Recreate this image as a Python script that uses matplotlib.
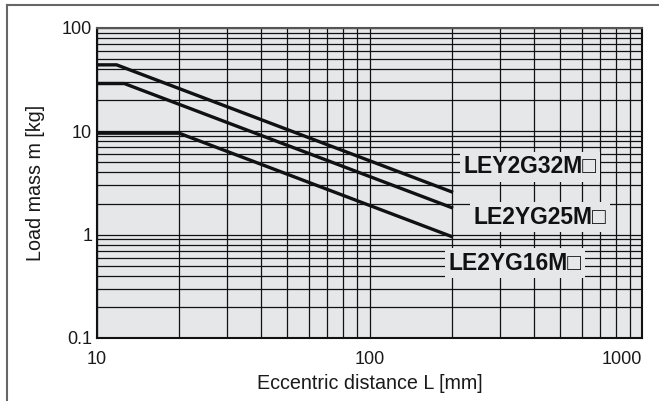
import matplotlib
matplotlib.use("Agg")
import matplotlib.pyplot as plt
from matplotlib.lines import Line2D
from matplotlib.ticker import LogLocator, NullFormatter, FixedLocator, FixedFormatter

plt.rcParams['font.family'] = ['Liberation Sans', 'DejaVu Sans']

# Allowable load mass vs. eccentric distance (log-log)
models = ["LEY2G32M□", "LE2YG25M□", "LE2YG16M□"]
dist_32 = [10, 11.8, 200]
mass_32 = [44, 44, 2.6]
dist_25 = [10, 12.6, 200]
mass_25 = [29, 29, 1.83]
dist_16 = [10, 20, 200]
mass_16 = [9.6, 9.6, 0.96]

x_ticks = [10, 100, 1000]
x_tick_labels = ["10", "100", "1000"]
y_ticks = [0.1, 1, 10, 100]
y_tick_labels = ["0.1", "1", "10", "100"]

fig = plt.figure(figsize=(6.59, 4.01), dpi=100)
ax = fig.add_axes([97 / 659, 1 - 338 / 401, (642 - 97) / 659, (338 - 28) / 401])
ax.set_facecolor("#e6e7e8")

ax.set_xscale("log")
ax.set_yscale("log")
ax.set_xlim(10, 1000)
ax.set_ylim(0.1, 100)

ax.xaxis.set_major_locator(FixedLocator(x_ticks))
ax.xaxis.set_major_formatter(FixedFormatter(x_tick_labels))
ax.yaxis.set_major_locator(FixedLocator(y_ticks))
ax.yaxis.set_major_formatter(FixedFormatter(y_tick_labels))
ax.xaxis.set_minor_locator(LogLocator(base=10, subs=range(2, 10)))
ax.yaxis.set_minor_locator(LogLocator(base=10, subs=range(2, 10)))
ax.xaxis.set_minor_formatter(NullFormatter())
ax.yaxis.set_minor_formatter(NullFormatter())
ax.tick_params(which="both", length=0, labelsize=13, colors="#1a1a1a")
ax.tick_params(axis="x", pad=9)
ax.tick_params(axis="y", pad=3.5)

# keep the last x label inside the plot's right edge
fig.canvas.draw()
ax.get_xticklabels()[-1].set_horizontalalignment("right")
ax.get_xticklabels()[-1].set_x(1000)

ax.grid(True, which="both", color="#111111", linewidth=0.9)
ax.set_axisbelow(True)
for s in ax.spines.values():
    s.set_linewidth(1.5)
    s.set_color("#111111")
ax.spines["top"].set_color("#555555")

for d, m in [(dist_32, mass_32), (dist_25, mass_25), (dist_16, mass_16)]:
    ax.plot(d, m, color="#111111", linewidth=2.4, solid_joinstyle="miter", zorder=3)

label_pos = [(388, 4.55), (423, 1.48), (342, 0.53)]
for name, (lx, ly) in zip(models, label_pos):
    ax.text(lx, ly, name, ha="center", va="center", fontsize=16.5, fontweight="bold",
            color="#111111", zorder=4,
            bbox=dict(facecolor="#e6e7e8", edgecolor="none", pad=2.5))

ax.set_xlabel("Eccentric distance L [mm]", fontsize=14.2, labelpad=5, color="#1a1a1a")
ax.set_ylabel("Load mass m [kg]", fontsize=14.2, labelpad=12, color="#1a1a1a")

# Frame lines along the top and left of the figure
fig.add_artist(Line2D([7 / 659, 1], [1 - 5 / 401, 1 - 5 / 401], transform=fig.transFigure,
                      color="#666666", linewidth=1.5))
fig.add_artist(Line2D([7 / 659, 7 / 659], [0, 1 - 5 / 401], transform=fig.transFigure,
                      color="#666666", linewidth=1.5))

fig.savefig("out.png", dpi=100)
